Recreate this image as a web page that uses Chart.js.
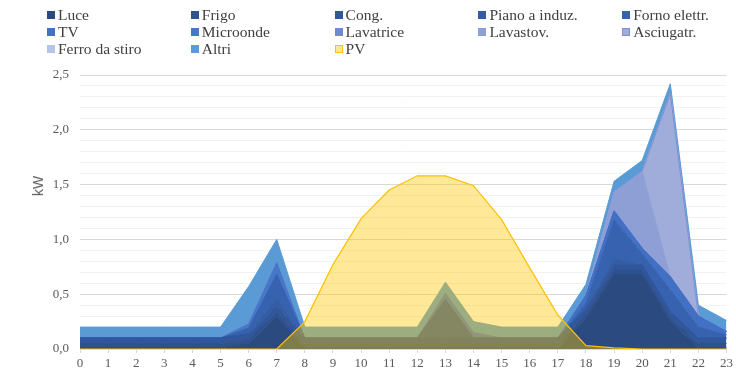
<!DOCTYPE html>
<html>
<head>
<meta charset="utf-8">
<script src="https://cdn.jsdelivr.net/npm/chart.js@4.4.1/dist/chart.umd.min.js"></script>
<style>
  body { margin: 0; background: #fff; }
  #wrap { position: relative; width: 736px; height: 374px; }
  #legend {
    position: absolute; left: 47px; top: 6px;
    display: grid; grid-template-columns: repeat(5, 143.8px); grid-auto-rows: 17px;
    font: 15.5px "Liberation Serif", serif; color: #404040;
  }
  .item { display: flex; align-items: center; white-space: nowrap; }
  .sw { width: 8px; height: 8px; margin-right: 3px; box-sizing: border-box; }
  #ytitle {
    position: absolute; left: 38px; top: 186px;
    transform: translate(-50%, -50%) rotate(-90deg);
    font: 14px "Liberation Sans", sans-serif; color: #595959;
  }
</style>
</head>
<body>
<div id="wrap">
  <canvas id="chart" width="736" height="374"></canvas>
  <div id="legend"></div>
  <div id="ytitle">kW</div>
</div>
<script>
var hours = ["0","1","2","3","4","5","6","7","8","9","10","11","12","13","14","15","16","17","18","19","20","21","22","23"];

var luce      = [0.01,0.01,0.01,0.01,0.01,0.01,0.05,0.30,0.01,0.01,0.01,0.01,0.01,0.01,0.01,0.01,0.01,0.01,0.28,0.68,0.68,0.25,0.01,0.01];
var frigo     = [0.04,0.04,0.04,0.04,0.04,0.04,0.04,0.04,0.04,0.04,0.04,0.04,0.04,0.04,0.04,0.04,0.04,0.04,0.04,0.04,0.04,0.04,0.04,0.04];
var cong      = [0.05,0.05,0.05,0.05,0.05,0.05,0.05,0.05,0.05,0.05,0.05,0.05,0.05,0.05,0.05,0.05,0.05,0.05,0.05,0.05,0.05,0.05,0.05,0.05];
var piano     = [0,0,0,0,0,0,0,0.08,0,0,0,0,0,0.35,0,0,0,0,0,0.06,0,0,0,0];
var forno     = [0,0,0,0,0,0,0.05,0.21,0,0,0,0,0,0,0,0,0,0,0.05,0.35,0.10,0.20,0.10,0.03];
var tv        = [0,0,0,0,0,0,0,0,0,0,0,0,0,0,0,0,0,0,0.07,0.08,0.05,0.12,0.10,0.03];
var microonde = [0,0,0,0,0,0,0.04,0.11,0,0,0,0,0,0.06,0.05,0,0,0,0,0,0,0,0,0];
var lavatrice = [0,0,0,0,0,0,0,0,0,0,0,0,0,0,0,0,0,0,0,0,0,0,0,0];
var lavastov  = [0,0,0,0,0,0,0,0,0,0,0,0,0,0,0,0,0,0,0,0.17,0.70,0,0,0];
var asciugatr = [0,0,0,0,0,0,0,0,0,0,0,0,0,0,0,0,0,0,0,0,0,1.67,0,0];
var ferro     = [0,0,0,0,0,0,0,0,0,0,0,0,0,0,0,0,0,0,0,0,0,0,0,0];
var altri     = [0.1,0.1,0.1,0.1,0.1,0.1,0.34,0.21,0.1,0.1,0.1,0.1,0.1,0.1,0.1,0.1,0.1,0.1,0.1,0.1,0.1,0.09,0.1,0.1];
var pv        = [0,0,0,0,0,0,0,0,0.25,0.77,1.19,1.45,1.58,1.58,1.49,1.18,0.74,0.31,0.03,0.01,0,0,0,0];

var seriesNames  = ["Luce","Frigo","Cong.","Piano a induz.","Forno elettr.","TV","Microonde","Lavatrice","Lavastov.","Asciugatr.","Ferro da stiro","Altri"];
var seriesData   = [luce, frigo, cong, piano, forno, tv, microonde, lavatrice, lavastov, asciugatr, ferro, altri];
var seriesColors = ["#2B4A7F","#2E5190","#30569B","#345DA6","#3762B0","#4170C4","#4777C9","#6F8BD0","#8E9FD6","#A0ACDA","#B4C3E7","#5B9BD5"];
var seriesBorders = ["#2B4A7F","#2E5190","#30569B","#345DA6","#3762B0","#4170C4","#4777C9","#6F8BD0","#8E9FD6","#7F8FCB","#B4C3E7","#5B9BD5"];

var datasets = [];
for (var i = 0; i < seriesNames.length; i++) {
  datasets.push({
    label: seriesNames[i],
    data: seriesData[i],
    backgroundColor: seriesColors[i],
    borderColor: seriesBorders[i],
    borderWidth: 1,
    pointRadius: 0,
    tension: 0,
    fill: i === 0 ? 'origin' : '-1'
  });
}
datasets.push({
  label: "PV",
  data: pv,
  stack: 'pv',
  backgroundColor: 'rgba(255,200,0,0.40)',
  borderColor: '#FFC000',
  borderWidth: 1.2,
  pointRadius: 0,
  tension: 0,
  fill: 'origin',
  order: -1
});

// legend in a 5-column grid like the original
var legend = document.getElementById('legend');
for (var j = 0; j < datasets.length; j++) {
  var item = document.createElement('div');
  item.className = 'item';
  var sw = document.createElement('span');
  sw.className = 'sw';
  if (datasets[j].label === 'PV') {
    sw.style.background = '#FFE699';
    sw.style.border = '1px solid #FFC000';
  } else if (datasets[j].label === 'Asciugatr.') {
    sw.style.background = seriesColors[j];
    sw.style.border = '1px solid #7F8FCB';
  } else {
    sw.style.background = seriesColors[j];
  }
  item.appendChild(sw);
  item.appendChild(document.createTextNode(datasets[j].label));
  legend.appendChild(item);
}

function isMajor(v) {
  return Math.abs(v * 2 - Math.round(v * 2)) < 1e-6;
}

var ctx = document.getElementById('chart').getContext('2d');
var chart = new Chart(ctx, {
  type: 'line',
  data: { labels: hours, datasets: datasets },
  options: {
    responsive: false,
    animation: false,
    layout: { padding: { top: 75, right: 6, left: 0, bottom: 0 } },
    plugins: { legend: { display: false }, tooltip: { enabled: false } },
    scales: {
      x: {
        offset: false,
        grid: { drawOnChartArea: false, drawTicks: true, tickLength: 4, color: '#D9D9D9' },
        border: { color: '#D9D9D9' },
        ticks: { color: '#595959', font: { family: 'Liberation Serif', size: 13 }, padding: 3, maxRotation: 0, autoSkip: false },
        afterFit: function (scale) { scale.height = 25; }
      },
      y: {
        stacked: true,
        min: 0,
        max: 2.5,
        grid: {
          drawTicks: false,
          color: function (c) { return isMajor(c.tick.value) ? '#D9D9D9' : '#F2F2F2'; }
        },
        border: { display: false },
        ticks: {
          stepSize: 0.1,
          autoSkip: false,
          padding: 11,
          color: '#595959',
          font: { family: 'Liberation Serif', size: 13 },
          callback: function (v) { return isMajor(v) ? v.toFixed(1).replace('.', ',') : ''; }
        },
        afterFit: function (scale) { scale.width = 80; }
      }
    }
  }
});
</script>
</body>
</html>
